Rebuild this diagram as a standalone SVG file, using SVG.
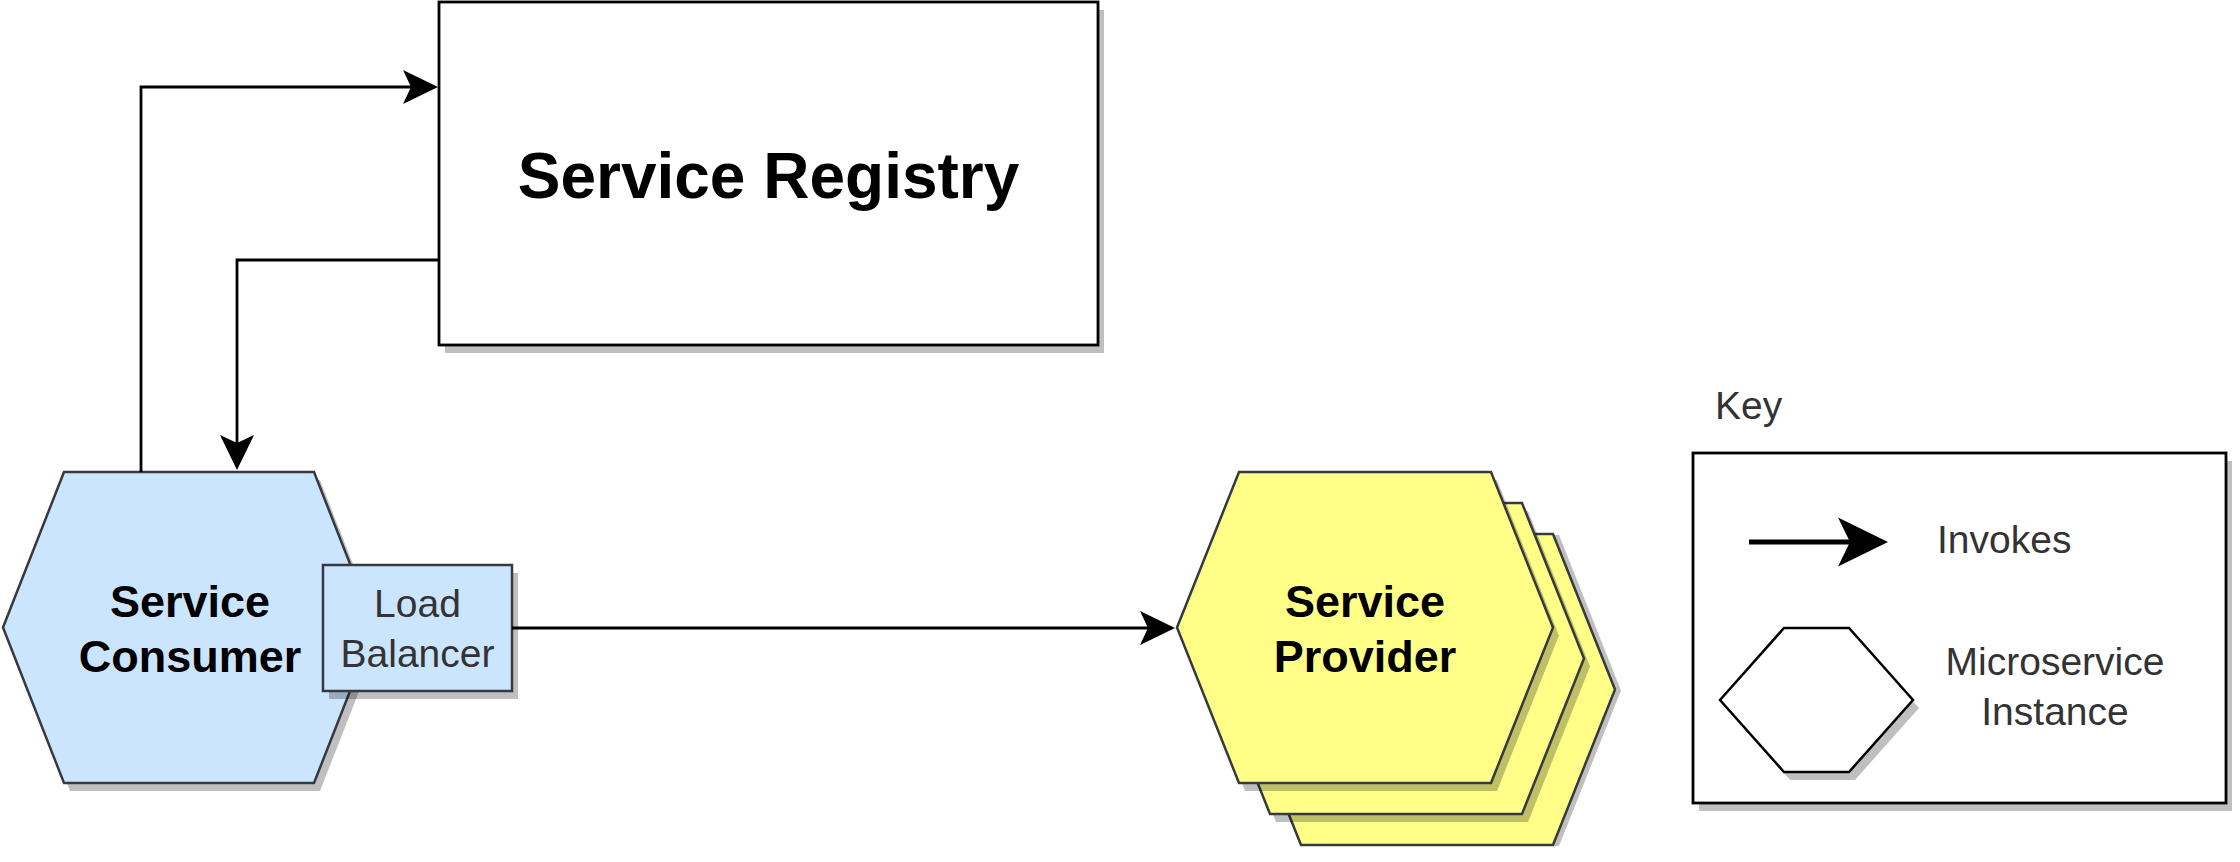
<svg xmlns="http://www.w3.org/2000/svg" width="2240" height="862" viewBox="0 0 2240 862">
  <style>
    .lbl { font-family: "Liberation Sans", Arial, sans-serif; }
    .bold { font-weight: bold; fill: #000; font-size: 45px; }
    .thin { fill: #333; font-size: 39px; }
    .shadow { fill: #000; fill-opacity: 0.25; stroke: none; }
    .blue { fill: #cce5ff; stroke: #36393d; stroke-width: 2.5; }
    .yellow { fill: #ffff88; stroke: #36393d; stroke-width: 2.5; }
    .edge { fill: none; stroke: #000; stroke-width: 2.8; }
  </style>
  <defs>
    <marker id="arrow" markerUnits="userSpaceOnUse" viewBox="0 -18 36 36" refX="8" refY="0" markerWidth="36" markerHeight="36" orient="auto">
      <path d="M0,-17 L35,0 L0,17 L8,0 Z" fill="#000"/>
    </marker>
    <marker id="arrowBig" markerUnits="userSpaceOnUse" viewBox="0 -25 51 50" refX="12" refY="0" markerWidth="51" markerHeight="50" orient="auto">
      <path d="M0,-24.5 L50,0 L0,24.5 L12,0 Z" fill="#000"/>
    </marker>
    <polygon id="hexBig" points="0,155.5 62,0 314,0 376,155.5 314,311 62,311"/>
  </defs>
  <rect width="2240" height="862" fill="#fff"/>

  <g id="service-registry">
    <rect class="shadow" x="445" y="10" width="659" height="343"/>
    <rect x="439" y="2" width="659" height="343" fill="#fff" stroke="#000" stroke-width="2.8"/>
    <text class="lbl" x="768.5" y="198" text-anchor="middle" font-size="64" font-weight="bold" fill="#000">Service Registry</text>
  </g>

  <g id="service-provider">
    <use href="#hexBig" class="shadow" x="1245" y="535"/>
    <use href="#hexBig" class="yellow" x="1239" y="534"/>
    <use href="#hexBig" class="shadow" x="1214" y="511"/>
    <use href="#hexBig" class="yellow" x="1208" y="503"/>
    <use href="#hexBig" class="shadow" x="1183" y="480"/>
    <use href="#hexBig" class="yellow" x="1177" y="472"/>
    <text class="lbl bold" x="1365" text-anchor="middle"><tspan x="1365" y="617">Service</tspan><tspan x="1365" y="672">Provider</tspan></text>
  </g>

  <g id="service-consumer">
    <polygon class="shadow" points="9,635.5 70,480 320,480 381,635.5 320,791 70,791"/>
    <polygon class="blue" points="3,627.5 64,472 314,472 375,627.5 314,783 64,783"/>
    <text class="lbl bold" text-anchor="middle"><tspan x="190" y="617">Service</tspan><tspan x="190" y="672">Consumer</tspan></text>
  </g>

  <g id="load-balancer">
    <rect class="shadow" x="329" y="573" width="189" height="126"/>
    <rect class="blue" x="323" y="565" width="189" height="126"/>
    <text class="lbl thin" text-anchor="middle"><tspan x="417.5" y="617">Load</tspan><tspan x="417.5" y="667">Balancer</tspan></text>
  </g>

  <g id="connectors">
    <path class="edge" d="M141,472 V87 H411" marker-end="url(#arrow)"/>
    <path class="edge" d="M439,260 H237 V443" marker-end="url(#arrow)"/>
    <path class="edge" d="M512,628 H1148" marker-end="url(#arrow)"/>
  </g>

  <g id="key">
    <text class="lbl thin" x="1715" y="419">Key</text>
    <rect class="shadow" x="1699" y="461" width="533" height="350"/>
    <rect x="1693" y="453" width="533" height="350" fill="#fff" stroke="#000" stroke-width="2.8"/>
    <path d="M1749,542 H1850" fill="none" stroke="#000" stroke-width="5" marker-end="url(#arrowBig)"/>
    <text class="lbl thin" x="1937" y="553">Invokes</text>
    <polygon class="shadow" points="1726,708 1790,636 1855,636 1919,708 1855,780 1790,780"/>
    <polygon points="1720,700 1784,628 1849,628 1913,700 1849,772 1784,772" fill="#fff" stroke="#000" stroke-width="2.5"/>
    <text class="lbl thin" text-anchor="middle"><tspan x="2055" y="675">Microservice</tspan><tspan x="2055" y="725">Instance</tspan></text>
  </g>
</svg>
